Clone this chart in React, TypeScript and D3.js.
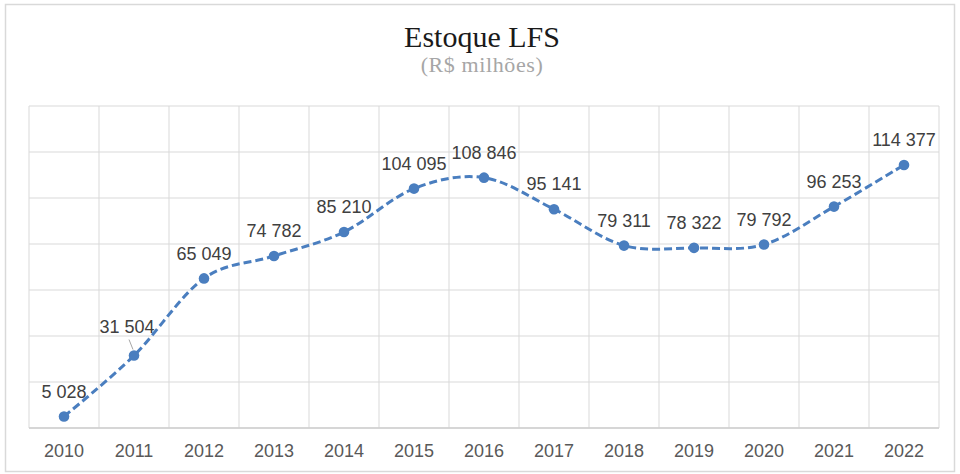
import { curveCardinal, line, scaleBand, scaleLinear, range } from 'd3'

const WIDTH = 960
const HEIGHT = 474
const PLOT = { left: 29, right: 939, top: 106, bottom: 428 }

const title = 'Estoque LFS'
const subtitle = '(R$ milhões)'
const years = ['2010', '2011', '2012', '2013', '2014', '2015', '2016', '2017', '2018', '2019', '2020', '2021', '2022']
const stock = [5028, 31504, 65049, 74782, 85210, 104095, 108846, 95141, 79311, 78322, 79792, 96253, 114377]
const stockLabels = ['5 028', '31 504', '65 049', '74 782', '85 210', '104 095', '108 846', '95 141', '79 311', '78 322', '79 792', '96 253', '114 377']
const yMax = 140000
const yStep = 20000

const BLUE = '#4a7ebf'
const GRID = '#d9d9d9'
const SANS = '"Liberation Sans", Arial, sans-serif'
const SERIF = '"Liberation Serif", "Times New Roman", serif'

export default function App() {
  const x = scaleBand<string>().domain(years).range([PLOT.left, PLOT.right])
  const y = scaleLinear().domain([0, yMax]).range([PLOT.bottom, PLOT.top])
  const cx = (i: number) => (x(years[i]) ?? 0) + x.bandwidth() / 2

  const path = line<number>()
    .x((_, i) => cx(i))
    .y((d) => y(d))
    .curve(curveCardinal.tension(0))

  const hTicks = range(0, yMax + 1, yStep)
  const vLines = [...years.map((yr) => x(yr) ?? 0), PLOT.right]

  return (
    <svg
      width={WIDTH}
      height={HEIGHT}
      viewBox={`0 0 ${WIDTH} ${HEIGHT}`}
      style={{ position: 'fixed', left: 0, top: 0, background: '#fff' }}
    >
      <rect x={0} y={0} width={WIDTH} height={HEIGHT} fill="#fff" />
      <rect x={5.5} y={4.5} width={949} height={467} fill="none" stroke={GRID} strokeWidth={1.5} />

      <text x={482} y={47} textAnchor="middle" fontFamily={SERIF} fontSize={30} fill="#1a1a1a">
        {title}
      </text>
      <text x={482} y={72} textAnchor="middle" fontFamily={SERIF} fontSize={22} fill="#a6a6a6" letterSpacing={0.6}>
        {subtitle}
      </text>

      {hTicks.map((t) => (
        <line key={`h${t}`} x1={PLOT.left} x2={PLOT.right} y1={y(t)} y2={y(t)} stroke={GRID} strokeWidth={1} />
      ))}
      {vLines.map((vx, i) => (
        <line key={`v${i}`} x1={vx} x2={vx} y1={PLOT.top} y2={PLOT.bottom} stroke={GRID} strokeWidth={1} />
      ))}
      <line x1={PLOT.left} x2={PLOT.right} y1={PLOT.bottom} y2={PLOT.bottom} stroke="#cfcfcf" strokeWidth={1.5} />

      {years.map((yr, i) => (
        <text key={yr} x={cx(i)} y={457} textAnchor="middle" fontFamily={SANS} fontSize={18} fill="#595959">
          {yr}
        </text>
      ))}

      <path d={path(stock) ?? ''} fill="none" stroke={BLUE} strokeWidth={3} strokeDasharray="8 4" />

      {stock.map((v, i) => (
        <circle key={`p${i}`} cx={cx(i)} cy={y(v)} r={5.3} fill={BLUE} />
      ))}

      {/* 2011 label sits off its point with a leader line */}
      <line x1={cx(1) - 5} y1={y(stock[1]) - 16} x2={cx(1) - 1} y2={y(stock[1]) - 6} stroke="#a6a6a6" strokeWidth={1} />

      {stock.map((v, i) => {
        const dx = i === 1 ? -7 : 0
        const dy = i === 1 ? -29 : -25
        return (
          <text
            key={`l${i}`}
            x={cx(i) + dx}
            y={y(v) + dy}
            dy="0.35em"
            textAnchor="middle"
            fontFamily={SANS}
            fontSize={18}
            fill="#404040"
          >
            {stockLabels[i]}
          </text>
        )
      })}
    </svg>
  )
}
